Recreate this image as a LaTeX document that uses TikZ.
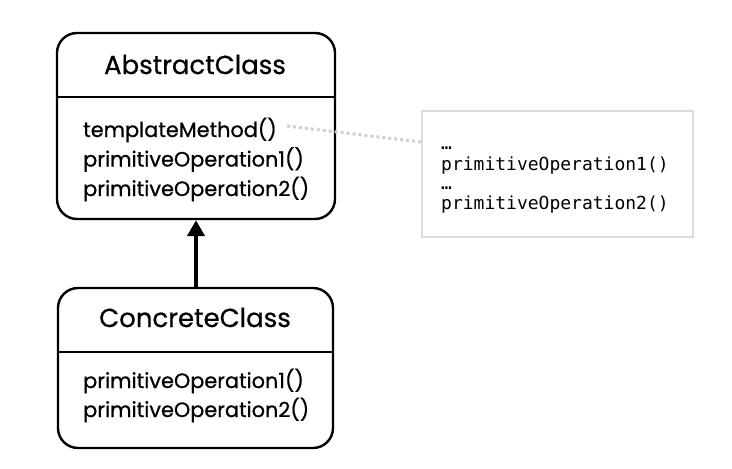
\documentclass[tikz,border=0pt]{standalone}
\usepackage{fontspec}
\setmainfont{Poppins}[FakeBold=0.7]
\newfontfamily\notemono{DejaVu Sans Mono}
\usetikzlibrary{arrows.meta}
\definecolor{notegray}{HTML}{DCDCDC}
\definecolor{dotgray}{HTML}{D0D0D0}
\begin{document}
\begin{tikzpicture}[x=1pt,y=-1pt,
  classbox/.style={draw=black,line width=2.4pt,rounded corners=20pt,inner sep=0pt},
  classname/.style={font=\fontsize{26}{30}\selectfont,inner sep=0pt,anchor=base},
  method/.style={font=\fontsize{20.8}{29}\selectfont,inner sep=0pt,anchor=base west},
  notebox/.style={draw=notegray,line width=2pt,inner sep=0pt},
  notetext/.style={font=\notemono\fontsize{18}{20}\selectfont,inner sep=0pt,anchor=base west},
  inherit/.style={line width=4pt,-{Triangle[length=16pt,width=17pt]}},
  dotlink/.style={draw=dotgray,line width=3pt,dash pattern=on 3pt off 3pt}]
\useasboundingbox (0,0) rectangle (732,469);
% AbstractClass
\node[classbox,minimum width=278pt,minimum height=186pt] (abs) at (196,126) {};
\draw[line width=2.4pt] (abs.west |- 0,97) -- (abs.east |- 0,97);
\node[classname] (absname) at (195,74) {AbstractClass};
\node[method] (absm1) at (83,137) {templateMethod()};
\node[method] (absm2) at (83,166.5) {primitiveOperation1()};
\node[method] (absm3) at (83,196) {primitiveOperation2()};
\coordinate (tmend) at (287,126);
% ConcreteClass
\node[classbox,minimum width=275pt,minimum height=160pt] (con) at (195.5,368) {};
\draw[line width=2.4pt] (con.west |- 0,352) -- (con.east |- 0,352);
\node[classname] (conname) at (195,327) {ConcreteClass};
\node[method] (conm1) at (83,388) {primitiveOperation1()};
\node[method] (conm2) at (83,417) {primitiveOperation2()};
% Note
\node[notebox,minimum width=271pt,minimum height=126pt] (note) at (557.5,174) {};
\node[notetext] (nt1) at (441,149.5) {…};
\node[notetext] (nt2) at (441,170) {primitiveOperation1()};
\node[notetext] (nt3) at (441,189.5) {…};
\node[notetext] (nt4) at (441,209) {primitiveOperation2()};
\coordinate (noteend) at (note.west |- 0,142);
% connectors
\draw[inherit] (con.north -| 196,0) -- (abs.south -| 196,0);
\draw[dotlink] (tmend) -- (noteend);
\end{tikzpicture}
\end{document}
